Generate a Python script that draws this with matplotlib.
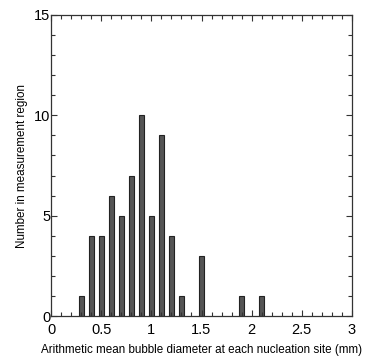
import matplotlib
matplotlib.use("Agg")
import matplotlib.pyplot as plt
from matplotlib.ticker import MultipleLocator

diameters = [0.3, 0.4, 0.5, 0.6, 0.7, 0.8, 0.9, 1.0, 1.1, 1.2, 1.3, 1.5, 1.9, 2.1]
counts = [1, 4, 4, 6, 5, 7, 10, 5, 9, 4, 1, 3, 1, 1]
xticklabels = ["0", "0.5", "1", "1.5", "2", "2.5", "3"]

plt.rcParams['font.family'] = ['Liberation Sans', 'DejaVu Sans']

fig = plt.figure(figsize=(3.65, 3.63), dpi=100)
ax = fig.add_axes([51/365, 1 - 316/363, (352-51)/365, (316-15)/363])
ax.bar(diameters, counts, width=0.05, color='#555555', edgecolor='#222222', linewidth=0.8)
ax.set_xlim(0, 3)
ax.set_ylim(0, 15)
ax.xaxis.set_major_locator(MultipleLocator(0.5))
ax.xaxis.set_minor_locator(MultipleLocator(0.1))
ax.yaxis.set_major_locator(MultipleLocator(5))
ax.yaxis.set_minor_locator(MultipleLocator(1))
ax.set_xticks([0, 0.5, 1, 1.5, 2, 2.5, 3])
ax.set_xticklabels(xticklabels)
ax.tick_params(which='both', direction='in', top=True, right=True, color='#333333')
ax.tick_params(which='major', length=4, width=0.8, labelsize=10.5)
ax.tick_params(which='minor', length=3, width=0.8)
ax.tick_params(axis='x', which='major', pad=5)
ax.tick_params(axis='y', which='major', pad=0.5)
for s in ax.spines.values():
    s.set_color('#333333')
    s.set_linewidth(0.9)
ax.set_xlabel('Arithmetic mean bubble diameter at each nucleation site (mm)', fontsize=8.4, labelpad=5)
ax.set_ylabel('Number in measurement region', fontsize=8.4, labelpad=4)
fig.savefig('out.png', dpi=100)
